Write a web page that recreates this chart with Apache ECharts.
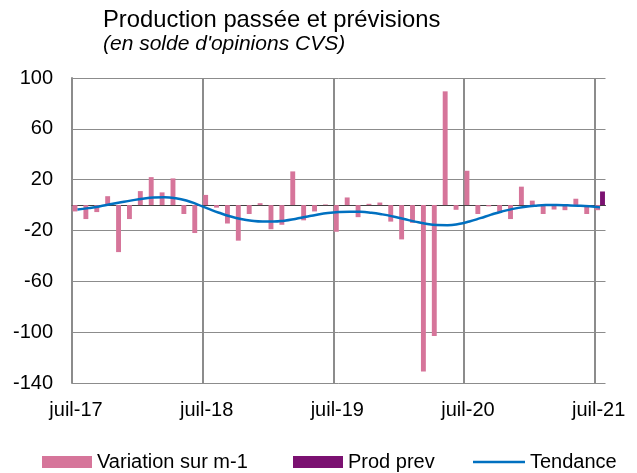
<!DOCTYPE html>
<html><head><meta charset="utf-8">
<script src="https://cdn.jsdelivr.net/npm/echarts@6/dist/echarts.min.js"></script>
<style>html,body{margin:0;padding:0;background:#fff}#c{width:637px;height:473px}</style>
</head><body><div id="c"></div>
<script>
const months = ['juil-17','août-17','sept-17','oct-17','nov-17','déc-17','janv-18','févr-18','mars-18','avr-18','mai-18','juin-18',
  'juil-18','août-18','sept-18','oct-18','nov-18','déc-18','janv-19','févr-19','mars-19','avr-19','mai-19','juin-19',
  'juil-19','août-19','sept-19','oct-19','nov-19','déc-19','janv-20','févr-20','mars-20','avr-20','mai-20','juin-20',
  'juil-20','août-20','sept-20','oct-20','nov-20','déc-20','janv-21','févr-21','mars-21','avr-21','mai-21','juin-21',
  'juil-21'];
const tickLabels = ['juil-17','juil-18','juil-19','juil-20','juil-21'];
const variation = [-5,-11,-5.5,7,-37,-11,11,22,10,21,-7,-22,
  8,-2,-14.5,-28,-7,1.5,-19,-15.5,26.5,-12,-5,0.5,
  -21,6,-9.5,1,2,-13,-27,-14,-131,-103,89.5,-3.7,
  27,-7,-1,-6,-11,14.5,3.5,-7,-3.5,-4,5,-7,
  -4];
const prodPrev = [null,null,null,null,null,null,null,null,null,null,null,null,
  null,null,null,null,null,null,null,null,null,null,null,null,
  null,null,null,null,null,null,null,null,null,null,null,null,
  null,null,null,null,null,null,null,null,null,null,null,null,
  10.7];
const tendance = [-3.4,-2.4,-1.1,0.6,2.2,3.7,5.0,5.9,6.1,5.4,3.6,0.6,
  -2.8,-6.0,-8.8,-11.0,-12.4,-13.0,-13.0,-12.3,-10.9,-9.2,-7.6,-6.3,
  -5.5,-5.2,-5.3,-6.0,-7.3,-9.0,-11.0,-13.0,-14.7,-15.7,-15.8,-14.9,
  -12.9,-10.3,-7.5,-5.0,-3.0,-1.5,-0.5,0,0,-0.2,-0.5,-1.0,
  -1.8];
const seriesNames = ['Variation sur m-1','Prod prev','Tendance'];

const FONT = 'Liberation Sans, Arial, sans-serif';
const chart = echarts.init(document.getElementById('c'), null, {renderer:'canvas'});
const legendText = {fontFamily: FONT, fontSize: 20, color: '#000'};
chart.setOption({
  animation: false,
  backgroundColor: '#fff',
  graphic: [
    {type:'text', left: 103, top: 8.5, style:{text:'Production passée et prévisions', font: '23.8px ' + FONT, fill:'#000'}},
    {type:'text', left: 103, top: 34, style:{text:"(en solde d'opinions CVS)", font: 'italic 21px ' + FONT, fill:'#000'}}
  ],
  grid: {left: 72, right: 31.5, top: 78, bottom: 90, containLabel: false, outerBoundsMode: 'none'},
  legend: [
    {left: 37, top: 447, itemWidth: 50, itemHeight: 12, icon: 'rect', data: [seriesNames[0]], textStyle: legendText, selectedMode: false},
    {left: 288, top: 447, itemWidth: 50, itemHeight: 12, icon: 'rect', data: [seriesNames[1]], textStyle: legendText, selectedMode: false},
    {left: 468, top: 447, itemWidth: 52, itemHeight: 2.5, icon: 'rect', data: [seriesNames[2]], textStyle: legendText, selectedMode: false}
  ],
  xAxis: [
    {type:'category', data: months, position:'bottom', boundaryGap: true,
     axisLine:{show:true, onZero:true, lineStyle:{color:'#404040', width:1}},
     axisTick:{show:false}, axisLabel:{show:false}, splitLine:{show:false}},
    {type:'value', position:'bottom', min:0, max: months.length, interval:12,
     axisLine:{show:false}, axisTick:{show:false},
     axisLabel:{show:true, margin: 17, padding:[0,0,0,8], fontFamily: FONT, fontSize: 20, color:'#000',
       formatter: v => (v % 12 === 0 ? (tickLabels[v/12] || '') : ''), showMaxLabel: false},
     splitLine:{show:true, showMaxLine:false, lineStyle:{color:'#8c8c8c', width:2}}}
  ],
  yAxis: {type:'value', min:-140, max:100, interval:40,
    axisLine:{show:true, lineStyle:{color:'#8c8c8c', width:2}}, axisTick:{show:false},
    axisLabel:{margin: 19, fontFamily: FONT, fontSize: 20, color:'#000'},
    splitLine:{show:true, lineStyle:{color:'#8c8c8c', width:1}}},
  series: [
    {name: seriesNames[0], type:'bar', xAxisIndex:0, data: variation, barGap:'0%', barCategoryGap:'10%',
     itemStyle:{color:'#D6759A'}},
    {name: seriesNames[1], type:'bar', xAxisIndex:0, data: prodPrev, barGap:'0%', barCategoryGap:'10%',
     itemStyle:{color:'#7B1171'}},
    {name: seriesNames[2], type:'line', xAxisIndex:0, data: tendance, smooth:true, symbol:'none', showSymbol:false,
     lineStyle:{color:'#0070C0', width:2.5}, itemStyle:{color:'#0070C0'}, z: 5}
  ]
});
</script></body></html>
